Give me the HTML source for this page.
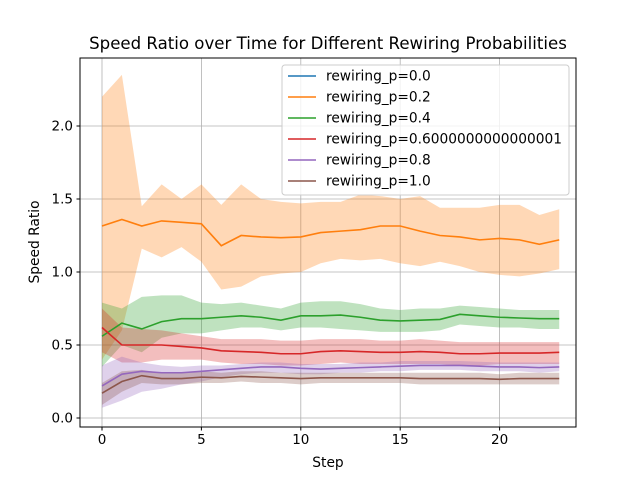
<!DOCTYPE html>
<html><head><meta charset="utf-8"><style>
body{margin:0;background:#fff;}
svg{display:block;font-family:"DejaVu Sans","Liberation Sans",sans-serif;}
</style></head><body>
<svg id="chart" width="640" height="480" viewBox="0 0 640 480" xmlns="http://www.w3.org/2000/svg">
<rect x="0" y="0" width="640" height="480" fill="#fff"/>
<text x="328" y="49" font-size="16.6" text-anchor="middle" fill="#000">Speed Ratio over Time for Different Rewiring Probabilities</text>
<text x="328" y="467" font-size="13.8" text-anchor="middle">Step</text>
<text transform="translate(39,242) rotate(-90)" font-size="13.8" text-anchor="middle">Speed Ratio</text>
<g id="grid"></g>
<g id="bands"></g>
<g id="lines"></g>
<rect x="80" y="58" width="496" height="369" fill="none" stroke="#000" stroke-width="1"/>
<g id="ticks"></g>
<g id="legend"></g>
</svg>
<script>
const steps=[0,1,2,3,4,5,6,7,8,9,10,11,12,13,14,15,16,17,18,19,20,21,22,23];
const xTicks=[0,5,10,15,20];
const yTicks=[0.0,0.5,1.0,1.5,2.0];
const seriesNames=["rewiring_p=0.0","rewiring_p=0.2","rewiring_p=0.4","rewiring_p=0.6000000000000001","rewiring_p=0.8","rewiring_p=1.0"];
const colors=["#1f77b4","#ff7f0e","#2ca02c","#d62728","#9467bd","#8c564b"];
const mean02=[1.315,1.36,1.315,1.35,1.34,1.33,1.18,1.25,1.24,1.235,1.24,1.27,1.28,1.29,1.315,1.315,1.28,1.25,1.24,1.22,1.23,1.22,1.19,1.22];
const up02=[2.2,2.35,1.45,1.6,1.5,1.6,1.46,1.6,1.5,1.48,1.47,1.48,1.48,1.53,1.52,1.5,1.52,1.44,1.44,1.44,1.46,1.46,1.39,1.43];
const lo02=[0.4,0.6,1.16,1.1,1.17,1.07,0.88,0.9,0.97,0.99,1.0,1.06,1.09,1.08,1.09,1.06,1.04,1.07,1.04,1.0,0.98,0.97,0.99,1.02];
const mean04=[0.56,0.65,0.61,0.66,0.68,0.68,0.69,0.70,0.69,0.67,0.70,0.70,0.705,0.69,0.67,0.665,0.67,0.675,0.71,0.70,0.69,0.685,0.68,0.68];
const up04=[0.79,0.75,0.83,0.84,0.84,0.79,0.78,0.79,0.77,0.75,0.79,0.80,0.80,0.78,0.75,0.74,0.75,0.75,0.77,0.76,0.75,0.74,0.74,0.74];
const lo04=[0.35,0.5,0.45,0.55,0.58,0.58,0.6,0.62,0.62,0.6,0.62,0.62,0.61,0.6,0.59,0.59,0.59,0.6,0.64,0.63,0.62,0.62,0.61,0.61];
const mean06=[0.62,0.5,0.5,0.5,0.49,0.48,0.46,0.455,0.45,0.44,0.44,0.455,0.46,0.455,0.45,0.45,0.455,0.45,0.44,0.44,0.445,0.445,0.445,0.45];
const up06=[0.75,0.62,0.61,0.6,0.58,0.56,0.54,0.54,0.54,0.53,0.53,0.54,0.54,0.54,0.53,0.53,0.54,0.53,0.52,0.52,0.52,0.52,0.52,0.52];
const lo06=[0.45,0.38,0.38,0.4,0.4,0.4,0.38,0.37,0.37,0.36,0.36,0.37,0.38,0.37,0.37,0.37,0.37,0.37,0.36,0.36,0.37,0.37,0.37,0.37];
const mean08=[0.22,0.3,0.32,0.31,0.31,0.32,0.33,0.34,0.35,0.35,0.34,0.335,0.34,0.345,0.35,0.355,0.36,0.36,0.36,0.355,0.35,0.35,0.345,0.35];
const up08=[0.36,0.42,0.38,0.36,0.35,0.36,0.36,0.37,0.38,0.38,0.37,0.37,0.37,0.38,0.38,0.39,0.39,0.39,0.39,0.385,0.38,0.38,0.38,0.38];
const lo08=[0.07,0.12,0.18,0.2,0.23,0.25,0.28,0.3,0.31,0.31,0.3,0.3,0.31,0.31,0.32,0.32,0.33,0.33,0.33,0.32,0.32,0.32,0.31,0.32];
const mean10=[0.17,0.25,0.29,0.27,0.27,0.28,0.275,0.285,0.28,0.275,0.27,0.275,0.275,0.275,0.275,0.275,0.27,0.27,0.27,0.27,0.265,0.27,0.27,0.27];
const up10=[0.24,0.32,0.33,0.31,0.31,0.32,0.31,0.32,0.32,0.31,0.31,0.31,0.31,0.31,0.31,0.31,0.31,0.31,0.31,0.31,0.3,0.31,0.31,0.31];
const lo10=[0.09,0.18,0.24,0.23,0.23,0.24,0.24,0.25,0.24,0.24,0.23,0.24,0.24,0.24,0.24,0.24,0.23,0.23,0.23,0.23,0.23,0.23,0.23,0.23];
const NS="http://www.w3.org/2000/svg";
const xs=v=>102+v*19.88;
const ys=v=>418-v*146;
function el(t,a,p){const e=document.createElementNS(NS,t);for(const k in a)e.setAttribute(k,a[k]);p.appendChild(e);return e;}
const grid=document.getElementById('grid'),ticks=document.getElementById('ticks');
xTicks.forEach(t=>{
 const g=el('line',{x1:xs(t),x2:xs(t),y1:58,y2:427,stroke:'#b0b0b0','stroke-width':0.8},grid);
 
 
 el('line',{x1:xs(t),x2:xs(t),y1:427,y2:430.5,stroke:'#000'},ticks);
 const tx=el('text',{x:xs(t),y:444,'font-size':13.5,'text-anchor':'middle'},ticks);tx.textContent=t;
 
 
});
yTicks.forEach(t=>{
 const g=el('line',{x1:80,x2:576,y1:ys(t),y2:ys(t),stroke:'#b0b0b0','stroke-width':0.8},grid);
 
 
 el('line',{x1:76.5,x2:80,y1:ys(t),y2:ys(t),stroke:'#000'},ticks);
 const tx=el('text',{x:73,y:ys(t)+4.5,'font-size':13.5,'text-anchor':'end'},ticks);tx.textContent=t.toFixed(1);
 
 
});
const series=[null,[mean02,up02,lo02],[mean04,up04,lo04],[mean06,up06,lo06],[mean08,up08,lo08],[mean10,up10,lo10]];
const bands=document.getElementById('bands'),lines=document.getElementById('lines');
series.forEach((s,i)=>{
 if(!s)return;
 const [m,u,l]=s;
 let d='M'+steps.map((x,j)=>xs(x)+','+ys(u[j])).join('L');
 d+='L'+steps.slice().reverse().map((x,k)=>{const j=steps.length-1-k;return xs(x)+','+ys(l[j]);}).join('L')+'Z';
 const b=el('path',{d:d,fill:colors[i],'fill-opacity':0.3,stroke:'none'},bands);
 
 
 const p=el('polyline',{points:steps.map((x,j)=>xs(x)+','+ys(m[j])).join(' '),fill:'none',stroke:colors[i],'stroke-width':1.6},lines);
 
 
});
const lg=document.getElementById('legend');
const box=el('rect',{x:282,y:65,width:287,height:130,rx:3,fill:'#fff','fill-opacity':0.8,stroke:'#ccc'},lg);


seriesNames.forEach((n,i)=>{
 const y=76+i*21;
 el('line',{x1:288,x2:316,y1:y,y2:y,stroke:colors[i],'stroke-width':1.6},lg);
 const t=el('text',{x:326,y:y+4.5,'font-size':13.75},lg);t.textContent=n;
 
 
});
</script>
</body></html>
